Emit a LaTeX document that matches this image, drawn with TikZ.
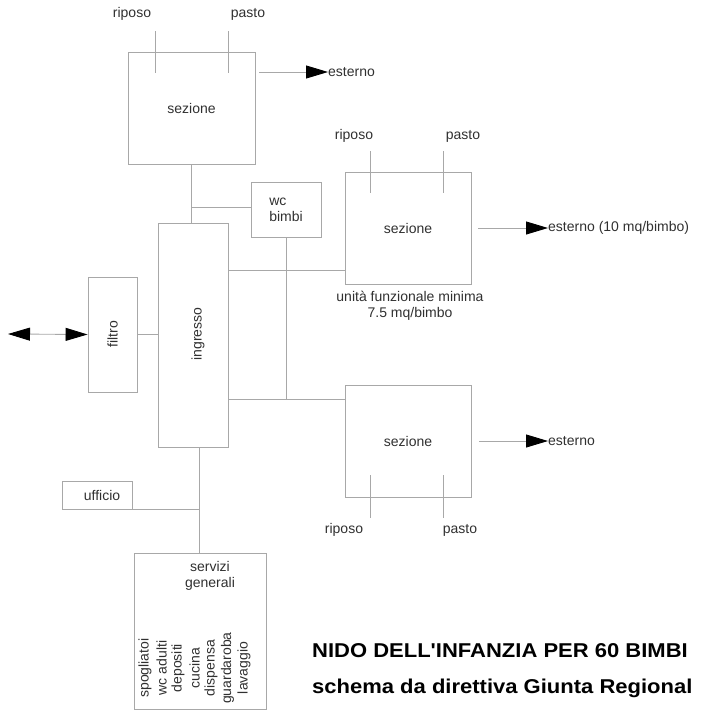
\documentclass[tikz,border=0pt]{standalone}
\usepackage{fontspec}
\setmainfont{Liberation Sans}
\newfontfamily\titlefont{Liberation Sans}
\usetikzlibrary{arrows.meta}
\definecolor{linegray}{HTML}{A8A8A8}
\definecolor{textgray}{HTML}{303030}
\tikzset{
  room/.style={draw=linegray, line width=0.9pt, inner sep=0pt, font=\fontsize{14}{16}\selectfont, text=textgray},
  lbl/.style={font=\fontsize{14}{16}\selectfont, text=textgray, inner sep=0pt},
  conn/.style={draw=linegray, line width=0.9pt},
  arr/.style={conn, -{Triangle[length=22pt, width=13pt, color=black]}},
  twoarr/.style={conn, {Triangle[length=22pt, width=13pt, color=black]}-{Triangle[length=22pt, width=13pt, color=black]}},
  titletext/.style={font=\titlefont\fontsize{20}{22}\selectfont\bfseries, text=black, inner sep=0pt, anchor=west}
}

\begin{document}
\begin{tikzpicture}[x=1pt, y=-1pt]
  \useasboundingbox (0,0) rectangle (701,712);

  % Sezione (top)
  \node[room, minimum width=127pt, minimum height=112pt] (sez1) at (191.5,108) {sezione};
  \node[lbl] (rip1) at (132,14) {riposo};
  \node[lbl] (pas1) at (248,14) {pasto};
  \coordinate (r1a) at (155,31); \coordinate (r1b) at (155,73);
  \coordinate (p1a) at (228,31); \coordinate (p1b) at (228,73);
  \node[lbl, anchor=west] (est1) at (328,72) {esterno};
  \coordinate (e1) at (259,72);

  % Sezione (right)
  \node[room, minimum width=126pt, minimum height=112pt] (sez2) at (408,228) {sezione};
  \node[lbl] (rip2) at (354,136) {riposo};
  \node[lbl] (pas2) at (463,136) {pasto};
  \coordinate (r2a) at (370,151); \coordinate (r2b) at (370,193);
  \coordinate (p2a) at (443,151); \coordinate (p2b) at (443,193);
  \node[lbl, anchor=west] (est2) at (548,228) {esterno (10 mq/bimbo)};
  \coordinate (e2) at (478,228);
  \node[lbl, align=center] (ufm) at (410,306) {unità funzionale minima\\7.5 mq/bimbo};

  % Sezione (bottom)
  \node[room, minimum width=126pt, minimum height=112pt] (sez3) at (408,441) {sezione};
  \node[lbl] (rip3) at (344,530) {riposo};
  \node[lbl] (pas3) at (460,530) {pasto};
  \coordinate (r3a) at (370,475); \coordinate (r3b) at (370,518);
  \coordinate (p3a) at (443,475); \coordinate (p3b) at (443,518);
  \node[lbl, anchor=west] (est3) at (548,441) {esterno};
  \coordinate (e3) at (479,441);

  % Ingresso, filtro, wc
  \node[room, minimum width=70pt, minimum height=224pt] (ing) at (193,335) {};
  \node[lbl, rotate=90] (ingtxt) at (198,334) {ingresso};
  \node[room, minimum width=49pt, minimum height=115pt] (fil) at (112.5,334.5) {};
  \node[lbl, rotate=90] (filtxt) at (112.5,334) {filtro};
  \node[room, minimum width=70pt, minimum height=55pt, align=left] (wc) at (286,209.5) {wc\\bimbi};
  \coordinate (out) at (8,334);

  % Ufficio, servizi generali
  \node[room, minimum width=70pt, minimum height=28pt] (uff) at (97,495) {\hspace{10pt}ufficio};
  \node[room, minimum width=132pt, minimum height=156pt] (serv) at (200,631) {};
  \node[lbl, align=center] (servtxt) at (210,576) {servizi\\generali};
  \foreach \w [count=\i] in {spogliatoi, wc adulti, depositi, cucina, dispensa, guardaroba, lavaggio}
    \node[lbl, rotate=90] (srv\i) at ({145+16.5*(\i-1)},668) {\w};

  % Connections
  \draw[conn] (sez1.south) -- (sez1.south |- ing.north);
  \draw[conn] (wc.west |- 0,207) -- (sez1.south |- 0,207);
  \draw[conn] (wc.south) -- (wc.south |- 0,399);
  \draw[conn] (ing.east |- 0,270) -- (sez2.west |- 0,270);
  \draw[conn] (ing.east |- 0,399) -- (sez3.west |- 0,399);
  \draw[conn] (fil.east) -- (fil.east -| ing.west);
  \draw[conn] (serv.north -| 199,0) -- (ing.south -| 199,0);
  \draw[conn] (uff.south east) -- (uff.south east -| 199,0);
  \draw[twoarr] (out) -- (fil.west);

  % riposo / pasto
  \draw[conn] (r1a) -- (r1b);
  \draw[conn] (p1a) -- (p1b);
  \draw[conn] (r2a) -- (r2b);
  \draw[conn] (p2a) -- (p2b);
  \draw[conn] (r3a) -- (r3b);
  \draw[conn] (p3a) -- (p3b);

  % esterno
  \draw[arr] (e1) -- (est1.west);
  \draw[arr] (e2) -- (est2.west);
  \draw[arr] (e3) -- (est3.west);

  % Title
  \node[titletext] (tit1) at (312,651) {\scalebox{1.1}[1]{NIDO DELL'INFANZIA PER 60 BIMBI}};
  \node[titletext] (tit2) at (312,688) {\scalebox{1.1}[1]{schema da direttiva Giunta Regional}};
\end{tikzpicture}
\end{document}
